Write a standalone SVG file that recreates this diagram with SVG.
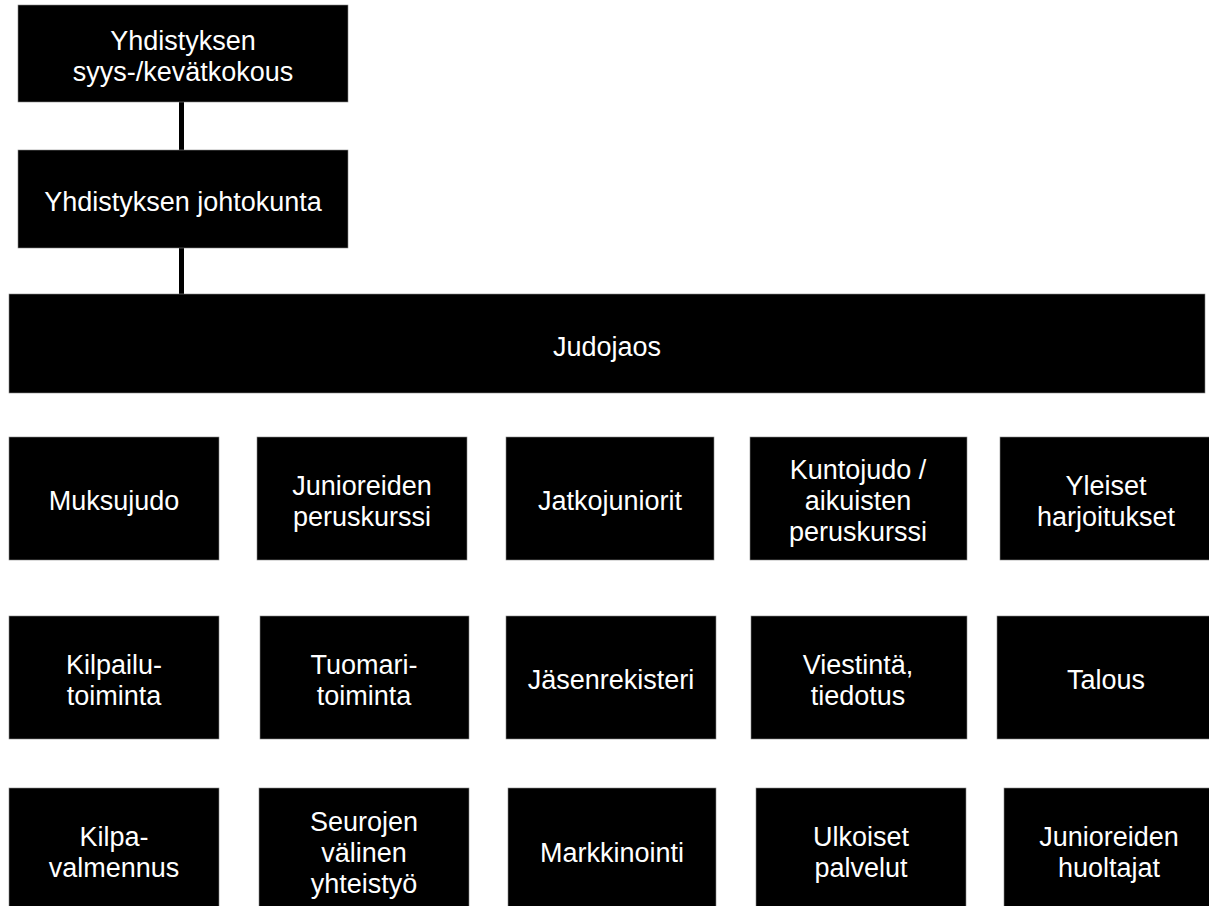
<svg xmlns="http://www.w3.org/2000/svg" width="1209" height="906" viewBox="0 0 1209 906">
<style>
.box{fill:#000;stroke:#888;stroke-width:0.6}
.t{fill:#fff;font-family:"Liberation Sans",Arial,sans-serif;font-size:27px;text-anchor:middle}
.con{stroke:#000;stroke-width:5;fill:none}
</style>
<rect width="1209" height="906" fill="#fff"/>
<g id="connectors">
<line class="con" x1="181.5" y1="100" x2="181.5" y2="152"/>
<line class="con" x1="181.5" y1="246" x2="181.5" y2="296"/>
</g>
<g id="n-kokous"><rect class="box" x="18" y="5" width="330" height="97"/><text class="t" x="183" y="50">Yhdistyksen</text><text class="t" x="183" y="81">syys-/kevätkokous</text></g>
<g id="n-johtokunta"><rect class="box" x="18" y="150" width="330" height="98"/><text class="t" x="183" y="211">Yhdistyksen johtokunta</text></g>
<g id="n-judojaos"><rect class="box" x="9" y="294" width="1196" height="99"/><text class="t" x="607" y="356">Judojaos</text></g>

<g id="n-muksujudo"><rect class="box" x="9" y="437" width="210" height="123"/><text class="t" x="114" y="510">Muksujudo</text></g>
<g id="n-junperus"><rect class="box" x="257" y="437" width="210" height="123"/><text class="t" x="362" y="495">Junioreiden</text><text class="t" x="362" y="526">peruskurssi</text></g>
<g id="n-jatko"><rect class="box" x="506" y="437" width="208" height="123"/><text class="t" x="610" y="510">Jatkojuniorit</text></g>
<g id="n-kunto"><rect class="box" x="750" y="437" width="217" height="123"/><text class="t" x="858" y="479">Kuntojudo /</text><text class="t" x="858" y="510">aikuisten</text><text class="t" x="858" y="541">peruskurssi</text></g>
<g id="n-yleiset"><rect class="box" x="1000" y="437" width="215" height="123"/><text class="t" x="1106" y="495">Yleiset</text><text class="t" x="1106" y="526">harjoitukset</text></g>

<g id="n-kilpailu"><rect class="box" x="9" y="616" width="210" height="123"/><text class="t" x="114" y="674">Kilpailu-</text><text class="t" x="114" y="705">toiminta</text></g>
<g id="n-tuomari"><rect class="box" x="260" y="616" width="209" height="123"/><text class="t" x="364" y="674">Tuomari-</text><text class="t" x="364" y="705">toiminta</text></g>
<g id="n-jasen"><rect class="box" x="506" y="616" width="210" height="123"/><text class="t" x="611" y="689">Jäsenrekisteri</text></g>
<g id="n-viestinta"><rect class="box" x="751" y="616" width="216" height="123"/><text class="t" x="858" y="674">Viestintä,</text><text class="t" x="858" y="705">tiedotus</text></g>
<g id="n-talous"><rect class="box" x="997" y="616" width="218" height="123"/><text class="t" x="1106" y="689">Talous</text></g>

<g id="n-kilpaval"><rect class="box" x="9" y="788" width="210" height="125"/><text class="t" x="114" y="846">Kilpa-</text><text class="t" x="114" y="877">valmennus</text></g>
<g id="n-seurojen"><rect class="box" x="259" y="788" width="210" height="125"/><text class="t" x="364" y="831">Seurojen</text><text class="t" x="364" y="862">välinen</text><text class="t" x="364" y="893">yhteistyö</text></g>
<g id="n-markkinointi"><rect class="box" x="508" y="788" width="208" height="125"/><text class="t" x="612" y="862">Markkinointi</text></g>
<g id="n-ulkoiset"><rect class="box" x="756" y="788" width="210" height="125"/><text class="t" x="861" y="846">Ulkoiset</text><text class="t" x="861" y="877">palvelut</text></g>
<g id="n-huoltajat"><rect class="box" x="1004" y="788" width="212" height="125"/><text class="t" x="1109" y="846">Junioreiden</text><text class="t" x="1109" y="877">huoltajat</text></g>
</svg>
